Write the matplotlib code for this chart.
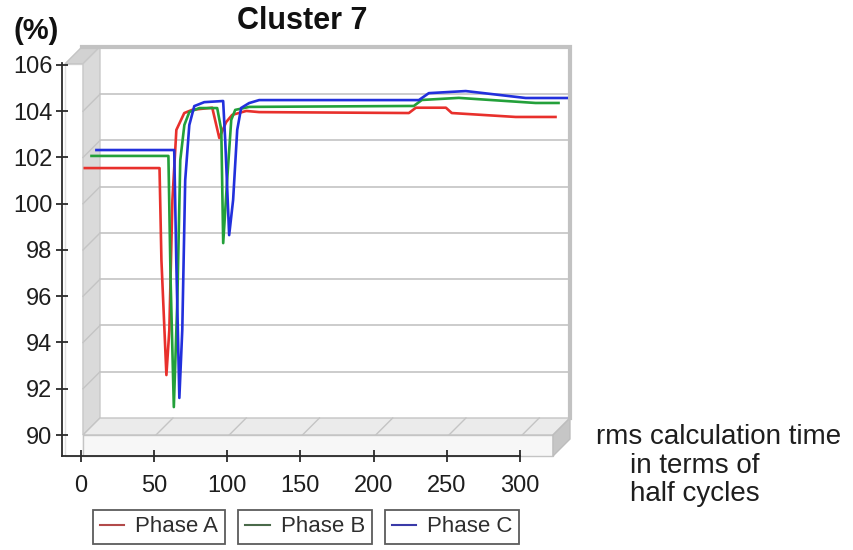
import matplotlib
matplotlib.use("Agg")
import matplotlib.pyplot as plt
from matplotlib.patches import Polygon
from matplotlib.lines import Line2D
from matplotlib.transforms import ScaledTranslation

plt.rcParams["font.family"] = ["Liberation Sans", "DejaVu Sans"]

# rms value (%) per half cycle, each phase read in its own depth plane
phase_a_x = [1, 52, 53.3, 56.7, 58.7, 60.8, 63.5, 68.9, 74.4, 88, 92.8, 97.5, 101.6,
             111.2, 120, 222.2, 227, 233.8, 247.5, 251.5, 295.1, 322.3]
phase_a_y = [101.42, 101.42, 97.44, 92.47, 94.42, 100.04, 103.07, 103.8, 103.94, 104.03,
             102.72, 103.41, 103.72, 103.89, 103.84, 103.8, 104.03, 104.03, 104.03,
             103.8, 103.63, 103.63]

phase_b_x = [1.7, 54.2, 55.7, 57.9, 60.3, 62.3, 65.1, 68.5, 75.3, 87.5, 90.3, 91.6, 94.3,
             97.1, 99.8, 109.4, 218.3, 221.7, 227.2, 252.4, 304.8, 320.5]
phase_b_y = [101.7, 101.7, 96.33, 90.84, 95.47, 101.52, 103.04, 103.6, 103.77, 103.77,
             102.82, 97.93, 100.66, 103.26, 103.69, 103.82, 103.86, 103.86, 104.12,
             104.21, 103.99, 103.99]

phase_c_x = [1.2, 54.3, 55.7, 57.8, 59.8, 61.8, 64.6, 68, 74.8, 87.7, 89.1, 91.8, 94.5,
             97.3, 100, 105.4, 112.3, 214.5, 221.3, 228.1, 253.3, 294.2, 322.2]
phase_c_y = [101.71, 101.71, 96.95, 90.99, 93.93, 100.41, 102.79, 103.61, 103.78, 103.83,
             102.14, 98.03, 99.55, 102.58, 103.53, 103.74, 103.87, 103.87, 103.87,
             104.17, 104.26, 103.96, 103.96]

phase_names = ["Phase A", "Phase B", "Phase C"]
line_colors = ["#e8302c", "#23a03a", "#2230dc"]
legend_colors = ["#b24a4a", "#4a6a4a", "#3a3aa8"]
depths = [1 / 6, 1 / 2, 5 / 6]

x_ticks = [0, 50, 100, 150, 200, 250, 300]
y_ticks = [90, 92, 94, 96, 98, 100, 102, 104, 106]

W, H = 854, 550
DEPTH_PX = 17
X_LO, X_HI = 1.7, 322.5
V_BOT, V_FLOOR, V_TOP = 89.09, 90.0, 106.05
WALL_LEFT = -10.6

fig = plt.figure(figsize=(W / 100, H / 100), dpi=100)
ax = fig.add_axes([62 / W, (H - 456) / H, 458 / W, 393 / H])
ax.set_xlim(-12.63, 300)
ax.set_ylim(89.092, 106.086)

# data-unit offset for one full step of depth
ox, oy = ax.transData.transform((0, 90))
ddx, ddy = ax.transData.inverted().transform((ox + DEPTH_PX, oy + DEPTH_PX)) - [0, 90]


def pt(x, v, d):
    return (x + d * ddx, v + d * ddy)


def face(pts, fc, ec="#bdbdbd", lw=1.0, z=1):
    ax.add_patch(Polygon(pts, closed=True, fc=fc, ec=ec, lw=lw, zorder=z, clip_on=False))


# left wall: front face, top face and inner face
face([pt(WALL_LEFT, V_BOT, 0), pt(X_LO, V_BOT, 0), pt(X_LO, V_TOP, 0), pt(WALL_LEFT, V_TOP, 0)],
     "#ffffff", ec="#e0e0e0")
face([pt(WALL_LEFT, V_TOP, 0), pt(X_LO, V_TOP, 0), pt(X_LO, V_TOP, 1), pt(WALL_LEFT, V_TOP, 1)],
     "#d2d2d2", ec="#c4c4c4")
face([pt(X_LO, V_FLOOR, 0), pt(X_LO, V_TOP, 0), pt(X_LO, V_TOP, 1), pt(X_LO, V_FLOOR, 1)],
     "#dadada", ec="#c8c8c8")

# floor: top, front face, right side
face([pt(X_LO, V_FLOOR, 0), pt(X_HI, V_FLOOR, 0), pt(X_HI, V_FLOOR, 1), pt(X_LO, V_FLOOR, 1)],
     "#ebebeb", ec="#c4c4c4")
face([pt(X_LO, V_BOT, 0), pt(X_HI, V_BOT, 0), pt(X_HI, V_FLOOR, 0), pt(X_LO, V_FLOOR, 0)],
     "#f7f7f7", ec="#c4c4c4")
face([pt(X_HI, V_BOT, 0), pt(X_HI, V_BOT, 1), pt(X_HI, V_FLOOR, 1), pt(X_HI, V_FLOOR, 0)],
     "#c6c6c6", ec="#bdbdbd")

# back wall gridlines and left-wall diagonals
for v in y_ticks[1:-1]:
    a, b = pt(X_LO, v, 1), pt(X_HI, v, 1)
    ax.plot([a[0], b[0]], [a[1], b[1]], color="#c8c8c8", lw=1.3, zorder=2, clip_on=False)
    a, b = pt(X_LO, v, 0), pt(X_LO, v, 1)
    ax.plot([a[0], b[0]], [a[1], b[1]], color="#c4c4c4", lw=1.0, zorder=2, clip_on=False)

# floor diagonals at the category ticks
for x in x_ticks[1:]:
    a, b = pt(x + 1.5, V_FLOOR, 0), pt(x + 1.5, V_FLOOR, 1)
    ax.plot([a[0], b[0]], [a[1], b[1]], color="#c4c4c4", lw=1.0, zorder=2, clip_on=False)

# thick border on the top and right of the back wall
a, b, c = pt(WALL_LEFT, V_TOP, 1), pt(X_HI, V_TOP, 1), pt(X_HI, V_FLOOR, 1)
ax.plot([a[0], b[0], c[0]], [a[1], b[1], c[1]], color="#c2c2c2", lw=3.0, zorder=2,
        clip_on=False, solid_joinstyle="miter")

# phase traces, each pushed back to its own depth
series = [(phase_a_x, phase_a_y), (phase_b_x, phase_b_y), (phase_c_x, phase_c_y)]
for (xs, ys), col, d in zip(series, line_colors, depths):
    shift = ScaledTranslation(DEPTH_PX * d / 100, DEPTH_PX * d / 100, fig.dpi_scale_trans)
    ax.plot(xs, ys, color=col, lw=1.9, zorder=5, clip_on=False,
            transform=ax.transData + shift)

ax.set_facecolor("none")
for side in ["top", "right"]:
    ax.spines[side].set_visible(False)
for side in ["left", "bottom"]:
    ax.spines[side].set_color("#2a2a2a")
    ax.spines[side].set_linewidth(1.3)
    ax.spines[side].set_zorder(6)

ax.set_xticks(x_ticks)
ax.set_yticks(y_ticks)
ax.tick_params(axis="both", direction="inout", length=8, width=1.3, color="#2a2a2a",
               labelsize=17, labelcolor="#1e1e1e")
ax.tick_params(axis="x", pad=10)
ax.tick_params(axis="y", pad=3)

fig.text(302 / W, 1 - 21 / H, "Cluster 7", fontsize=22, fontweight="bold",
         ha="center", va="center", color="#111111")
fig.text(36 / W, 1 - 31 / H, "(%)", fontsize=21, fontweight="bold",
         ha="center", va="center", color="#111111")

# axis title to the right of the floor, one text per line
for txt, cx, cy in [("rms calculation time", 719, 437), ("in terms of", 695, 466),
                    ("half cycles", 695, 494)]:
    fig.text(cx / W, 1 - cy / H, txt, fontsize=20, ha="center", va="center",
             color="#1e1e1e")

# each legend entry sits in its own box
for name, col, cx in zip(phase_names, legend_colors, [159, 305, 452]):
    h = Line2D([], [], color=col, lw=1.5)
    lg = fig.legend(handles=[h], labels=[name], loc="center",
                    bbox_to_anchor=(cx / W, 1 - 527 / H), frameon=True, fancybox=False,
                    fontsize=16, handlelength=1.1, handletextpad=0.5, borderpad=0.3,
                    labelcolor="#2e2e2e")
    lg.get_frame().set_edgecolor("#333333")
    lg.get_frame().set_linewidth(1.3)

fig.savefig("out.png", dpi=100)
